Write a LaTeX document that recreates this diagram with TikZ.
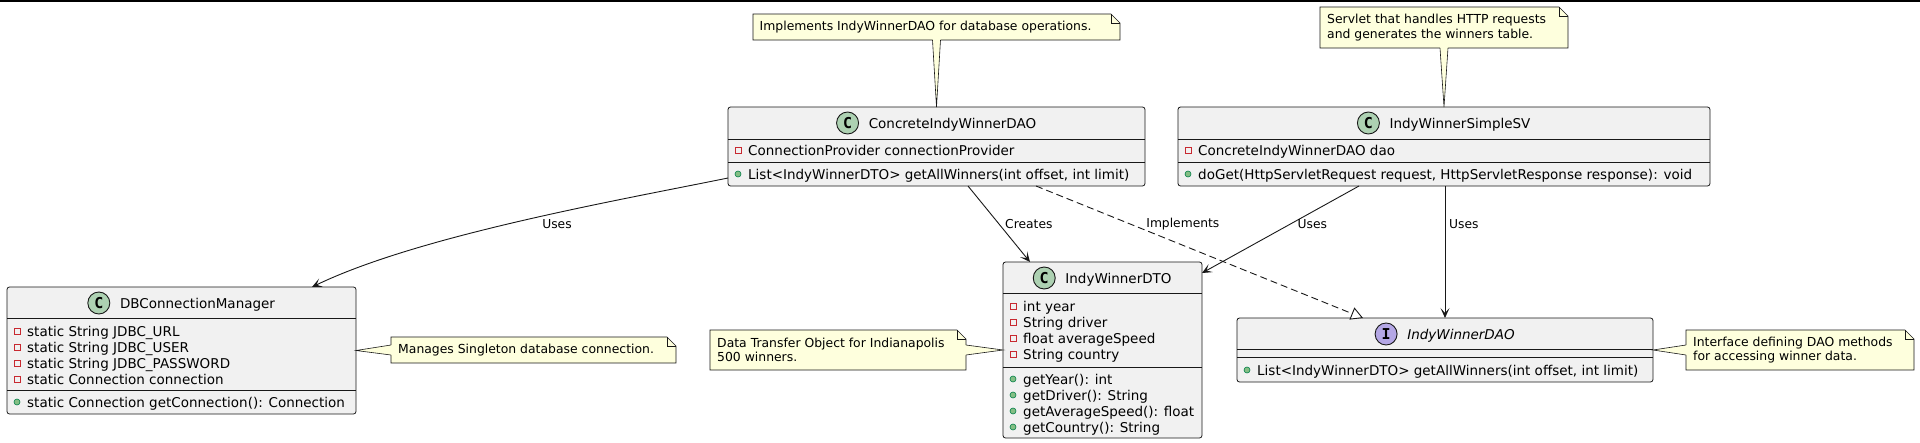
\documentclass[tikz,border=0pt]{standalone}
\usepackage{fontspec}
\setmainfont{DejaVu Sans}
\newfontfamily\iconfont{DejaVu Sans Mono}
\usetikzlibrary{calc,arrows.meta}
\definecolor{lineC}{HTML}{181818}
\definecolor{classF}{HTML}{F1F1F1}
\definecolor{noteF}{HTML}{FEFFDD}
\definecolor{cIcon}{HTML}{ADD1B2}
\definecolor{iIcon}{HTML}{B4A7E5}
\definecolor{privC}{HTML}{C82930}
\definecolor{pubF}{HTML}{84BE84}
\definecolor{pubD}{HTML}{038048}
\tikzset{
  classbox/.style={draw=lineC, fill=classF, line width=0.8pt, rounded corners=2.5pt, inner sep=0pt, outer sep=0pt},
  sepline/.style={draw=lineC, line width=0.8pt},
  titletext/.style={inner sep=0pt, font=\fontsize{13.5}{16}\selectfont, text=black},
  membertext/.style={inner sep=0pt, font=\fontsize{13.5}{16}\selectfont, text=black},
  iconcirc/.style={circle, draw=lineC, line width=0.9pt, minimum size=22pt, inner sep=0pt, font=\iconfont\bfseries\fontsize{15}{15}\selectfont},
  privicon/.style={draw=privC, line width=0.8pt},
  pubicon/.style={draw=pubD, fill=pubF, line width=0.6pt},
  noteframe/.style={inner sep=0pt, outer sep=0pt},
  noteshape/.style={draw=lineC, fill=noteF, line width=0.6pt},
  notetext/.style={inner sep=0pt, align=left, font=\fontsize{12.4}{14.5}\selectfont},
  conn/.style={draw=lineC, line width=0.9pt},
  headarrow/.style={-{Stealth[length=10pt,width=9pt,inset=5pt]}},
  realize/.style={dash pattern=on 7pt off 4pt, -{Triangle[length=12pt,width=13pt,fill=white]}},
  lbl/.style={inner sep=0pt, font=\fontsize{12.3}{14}\selectfont},
}
\newcommand\privline[4]{%
  \draw[privicon] ({#2+7},{#3-3}) rectangle ({#2+13},{#3+3});
  \node[membertext, anchor=base west] (#1) at ({#2+20},{#3+5}) {#4};
}
\newcommand\publine[4]{%
  \draw[pubicon] ({#2+10},{#3}) circle[radius=3pt];
  \node[membertext, anchor=base west] (#1) at ({#2+20},{#3+5}) {#4};
}
\newcommand\classhead[6]{%
  \node[titletext, anchor=base] (#1) at ({#2+16},{#3+5}) {#6};
  \node[iconcirc, fill=#4] (#1i) at ($(#1.base west)+(-21,-5)$) {#5};
}
\newcommand\notebody[1]{%
  \draw[noteshape] (#1.north west) -- ([xshift=-9pt]#1.north east) -- ([yshift=-9pt]#1.north east) -- (#1.south east) -- (#1.south west) -- cycle;
  \draw[noteshape, fill=none] ([xshift=-9pt]#1.north east) -- ([xshift=-9pt,yshift=-9pt]#1.north east) -- ([yshift=-9pt]#1.north east);
}
\newcommand\wedgedown[2]{%
  \fill[noteF] ([xshift=-4pt,yshift=1.5pt]#1.south) -- ([xshift=-4pt]#1.south) -- (#2) -- ([xshift=4pt]#1.south) -- ([xshift=4pt,yshift=1.5pt]#1.south) -- cycle;
  \draw[noteshape, fill=none] ([xshift=-4pt]#1.south) -- (#2) -- ([xshift=4pt]#1.south);
}
\newcommand\wedgeleft[2]{%
  \fill[noteF] ([xshift=1.5pt,yshift=5pt]#1.west) -- ([yshift=5pt]#1.west) -- (#2) -- ([yshift=-5pt]#1.west) -- ([xshift=1.5pt,yshift=-5pt]#1.west) -- cycle;
  \draw[noteshape, fill=none] ([yshift=5pt]#1.west) -- (#2) -- ([yshift=-5pt]#1.west);
}
\newcommand\wedgeright[2]{%
  \fill[noteF] ([xshift=-1.5pt,yshift=5pt]#1.east) -- ([yshift=5pt]#1.east) -- (#2) -- ([yshift=-5pt]#1.east) -- ([xshift=-1.5pt,yshift=-5pt]#1.east) -- cycle;
  \draw[noteshape, fill=none] ([yshift=5pt]#1.east) -- (#2) -- ([yshift=-5pt]#1.east);
}
\begin{document}
\begin{tikzpicture}[x=1pt,y=-1pt]
\useasboundingbox (0,0) rectangle (1920,442);
\coordinate (tl) at (0,0.75);
\coordinate (tr) at (1920,0.75);
\draw[line width=1.5pt, black] (tl) -- (tr);

% ConcreteIndyWinnerDAO
\node[classbox, minimum width=417pt, minimum height=79pt] (cdao) at (936.5,146.5) {};
\draw[sepline] ([yshift=-32pt]cdao.north west) -- ([yshift=-32pt]cdao.north east);
\draw[sepline] ([yshift=-55pt]cdao.north west) -- ([yshift=-55pt]cdao.north east);
\classhead{cdaoT}{936.5}{123}{cIcon}{C}{ConcreteIndyWinnerDAO}
\privline{cdaoF1}{728}{150.5}{ConnectionProvider connectionProvider}
\publine{cdaoM1}{728}{174}{List<IndyWinnerDTO> getAllWinners(int offset, int limit)}

% IndyWinnerSimpleSV
\node[classbox, minimum width=532pt, minimum height=79pt] (sv) at (1444,146.5) {};
\draw[sepline] ([yshift=-32pt]sv.north west) -- ([yshift=-32pt]sv.north east);
\draw[sepline] ([yshift=-55pt]sv.north west) -- ([yshift=-55pt]sv.north east);
\classhead{svT}{1444}{123}{cIcon}{C}{IndyWinnerSimpleSV}
\privline{svF1}{1178}{150.5}{ConcreteIndyWinnerDAO dao}
\publine{svM1}{1178}{174}{doGet(HttpServletRequest request, HttpServletResponse response): void}

% IndyWinnerDTO
\node[classbox, minimum width=199pt, minimum height=176pt] (dto) at (1102.5,350) {};
\draw[sepline] ([yshift=-31.5pt]dto.north west) -- ([yshift=-31.5pt]dto.north east);
\draw[sepline] ([yshift=-105pt]dto.north west) -- ([yshift=-105pt]dto.north east);
\classhead{dtoT}{1102.5}{278}{cIcon}{C}{IndyWinnerDTO}
\privline{dtoF1}{1003}{306}{int year}
\privline{dtoF2}{1003}{322}{String driver}
\privline{dtoF3}{1003}{338}{float averageSpeed}
\privline{dtoF4}{1003}{354}{String country}
\publine{dtoM1}{1003}{379}{getYear(): int}
\publine{dtoM2}{1003}{395}{getDriver(): String}
\publine{dtoM3}{1003}{411}{getAverageSpeed(): float}
\publine{dtoM4}{1003}{427}{getCountry(): String}

% DBConnectionManager
\node[classbox, minimum width=349pt, minimum height=127pt] (db) at (181.5,350.5) {};
\draw[sepline] ([yshift=-31.5pt]db.north west) -- ([yshift=-31.5pt]db.north east);
\draw[sepline] ([yshift=-103pt]db.north west) -- ([yshift=-103pt]db.north east);
\classhead{dbT}{181.5}{303}{cIcon}{C}{DBConnectionManager}
\privline{dbF1}{7}{331}{static String JDBC\_URL}
\privline{dbF2}{7}{347}{static String JDBC\_USER}
\privline{dbF3}{7}{363}{static String JDBC\_PASSWORD}
\privline{dbF4}{7}{379}{static Connection connection}
\publine{dbM1}{7}{402}{static Connection getConnection(): Connection}

% IndyWinnerDAO
\node[classbox, minimum width=416pt, minimum height=64pt] (idao) at (1445,350) {};
\draw[sepline] ([yshift=-31.5pt]idao.north west) -- ([yshift=-31.5pt]idao.north east);
\draw[sepline] ([yshift=-39.5pt]idao.north west) -- ([yshift=-39.5pt]idao.north east);
\classhead{idaoT}{1445}{334}{iIcon}{I}{\itshape IndyWinnerDAO}
\publine{idaoM1}{1237}{370}{List<IndyWinnerDTO> getAllWinners(int offset, int limit)}

% notes
\node[noteframe, minimum width=367pt, minimum height=26pt] (n1) at (936.5,27) {};
\notebody{n1}
\wedgedown{n1}{cdao.north}
\node[notetext, anchor=west] (n1t) at ([xshift=6.5pt]n1.west) {Implements IndyWinnerDAO for database operations.};

\node[noteframe, minimum width=248pt, minimum height=41pt] (n2) at (1444,27.5) {};
\notebody{n2}
\wedgedown{n2}{sv.north}
\node[notetext, anchor=west] (n2t) at ([xshift=7pt]n2.west) {Servlet that handles HTTP requests\\and generates the winners table.};

\node[noteframe, minimum width=285pt, minimum height=26pt] (ndb) at (533.5,350) {};
\notebody{ndb}
\wedgeleft{ndb}{db.east}
\node[notetext, anchor=west] (ndbt) at ([xshift=7pt]ndb.west) {Manages Singleton database connection.};

\node[noteframe, minimum width=256pt, minimum height=40pt] (ndto) at (838,350) {};
\notebody{ndto}
\wedgeright{ndto}{dto.west}
\node[notetext, anchor=west] (ndtot) at ([xshift=7pt]ndto.west) {Data Transfer Object for Indianapolis\\500 winners.};

\node[noteframe, minimum width=228pt, minimum height=40pt] (nidao) at (1800,350) {};
\notebody{nidao}
\wedgeleft{nidao}{idao.east}
\node[notetext, anchor=west] (nidaot) at ([xshift=7pt]nidao.west) {Interface defining DAO methods\\for accessing winner data.};

% connectors
\coordinate (uS) at ($(cdao.south west)+(0,-8)$);
\coordinate (uE) at ($(db.north east)+(-44,0)$);
\draw[conn, headarrow] (uS) .. controls ($(uS)+(-108,22)$) and ($(uE)+(108,-52)$) .. (uE);
\node[lbl] (uL) at (557,224) {Uses};

\coordinate (cS) at ($(cdao.south)+(31.5,0)$);
\coordinate (cE) at ($(dto.north west)+(27,0)$);
\draw[conn, headarrow] (cS) -- (cE);
\node[lbl, anchor=west] (cL) at ($(cS)!0.5!(cE)+(6,0)$) {Creates};

\coordinate (iS) at ($(cdao.south)+(99.5,0)$);
\coordinate (iE) at ($(idao.north west)+(126,0)$);
\draw[conn, realize] (iS) -- (iE);
\node[lbl, anchor=west] (iL) at ($(iS)!0.288!(iE)+(16,0)$) {Implements};

\coordinate (sS) at ($(sv.south west)+(181,0)$);
\coordinate (sE) at ($(dto.north east)+(0,11)$);
\draw[conn, headarrow] (sS) -- (sE);
\node[lbl, anchor=west] (s1L) at ($(sS)!0.437!(sE)+(7,0)$) {Uses};

\draw[conn, headarrow] (sv.south -| idao.north) -- (idao.north);
\node[lbl, anchor=west] (s2L) at (1449,224) {Uses};
\end{tikzpicture}
\end{document}
